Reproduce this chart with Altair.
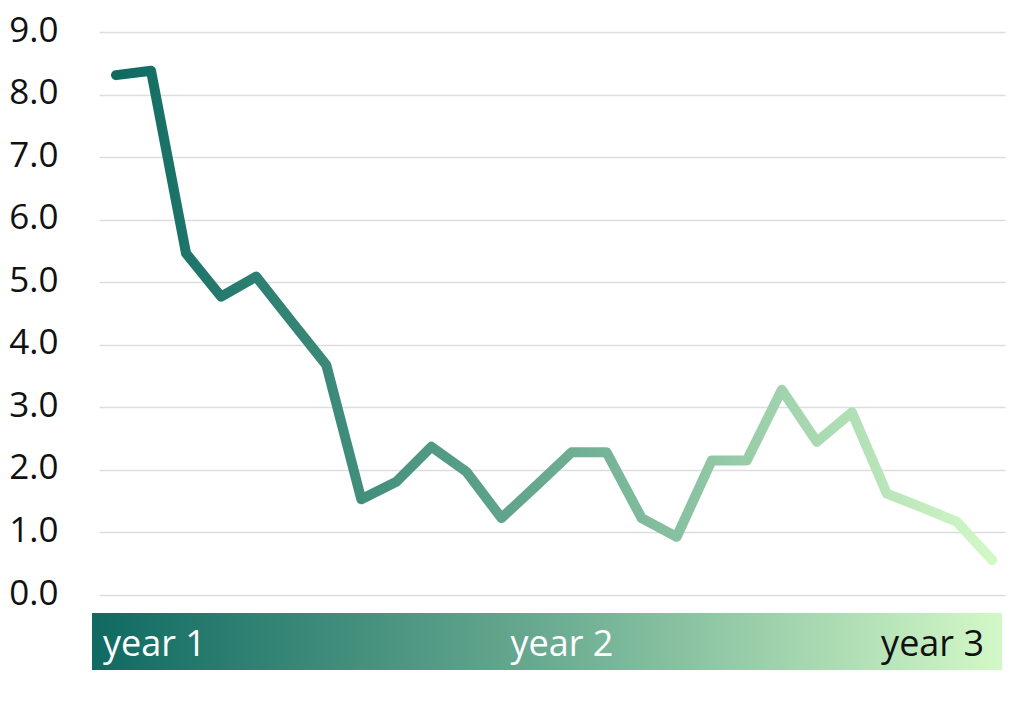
import altair as alt
import pandas as pd

# Data
period = list(range(26))
values = [8.31, 8.38, 5.46, 4.77, 5.09, 4.38, 3.68, 1.53, 1.81, 2.37, 1.97, 1.23, 1.75,
          2.28, 2.28, 1.23, 0.93, 2.15, 2.15, 3.28, 2.45, 2.92, 1.62, 1.40, 1.17, 0.56]
year_labels = ["year 1", "year 2", "year 3"]
y_ticks = [0, 1, 2, 3, 4, 5, 6, 7, 8, 9]

df = pd.DataFrame({"period": period, "value": values})

FONT = "Open Sans"
C0 = "#0f6a62"
C1 = "#d3f8c7"

grad = alt.Gradient(
    gradient="linear",
    stops=[alt.GradientStop(color=C0, offset=0),
           alt.GradientStop(color="#6aab91", offset=0.5),
           alt.GradientStop(color=C1, offset=1)],
    x1=0, x2=1, y1=0, y2=0,
)

W, H = 906, 563

line = alt.Chart(df).mark_line(
    stroke=grad, strokeWidth=10, strokeCap="round", strokeJoin="round"
).encode(
    x=alt.X("period:Q", scale=alt.Scale(domain=[-0.485, 25.37], nice=False, zero=False), axis=None),
    y=alt.Y("value:Q", scale=alt.Scale(domain=[0, 9], nice=False),
            axis=alt.Axis(values=y_ticks, format=".1f", title=None, domain=False, ticks=False,
                          labelPadding=41, labelFontSize=35, labelFont=FONT, labelColor="#111111",
                          gridColor="#dddddd", gridWidth=1.5, labelBaseline="middle", labelOffset=-2)),
)

band = alt.Chart(pd.DataFrame({"k": [0]})).mark_rect(fill=grad).encode(
    x=alt.value(-7), x2=alt.value(903), y=alt.value(581), y2=alt.value(638)
)

lab_df = pd.DataFrame({"label": year_labels})
t1 = alt.Chart(lab_df[lab_df.label == year_labels[0]]).mark_text(
    align="left", baseline="alphabetic", font=FONT, fontSize=36, color="white"
).encode(text="label:N", x=alt.value(4), y=alt.value(624))
t2 = alt.Chart(lab_df[lab_df.label == year_labels[1]]).mark_text(
    align="center", baseline="alphabetic", font=FONT, fontSize=36, color="white"
).encode(text="label:N", x=alt.value(463), y=alt.value(624))
t3 = alt.Chart(lab_df[lab_df.label == year_labels[2]]).mark_text(
    align="right", baseline="alphabetic", font=FONT, fontSize=36, color="#111111"
).encode(text="label:N", x=alt.value(885), y=alt.value(624))

chart = alt.layer(line, band, t1, t2, t3).properties(
    width=W, height=H, autosize="none", background="white",
    padding={"left": 91, "top": 24, "right": 11, "bottom": 95},
).configure_view(stroke=None)

chart.save("out.html", embed_options={"renderer": "svg", "actions": False})
